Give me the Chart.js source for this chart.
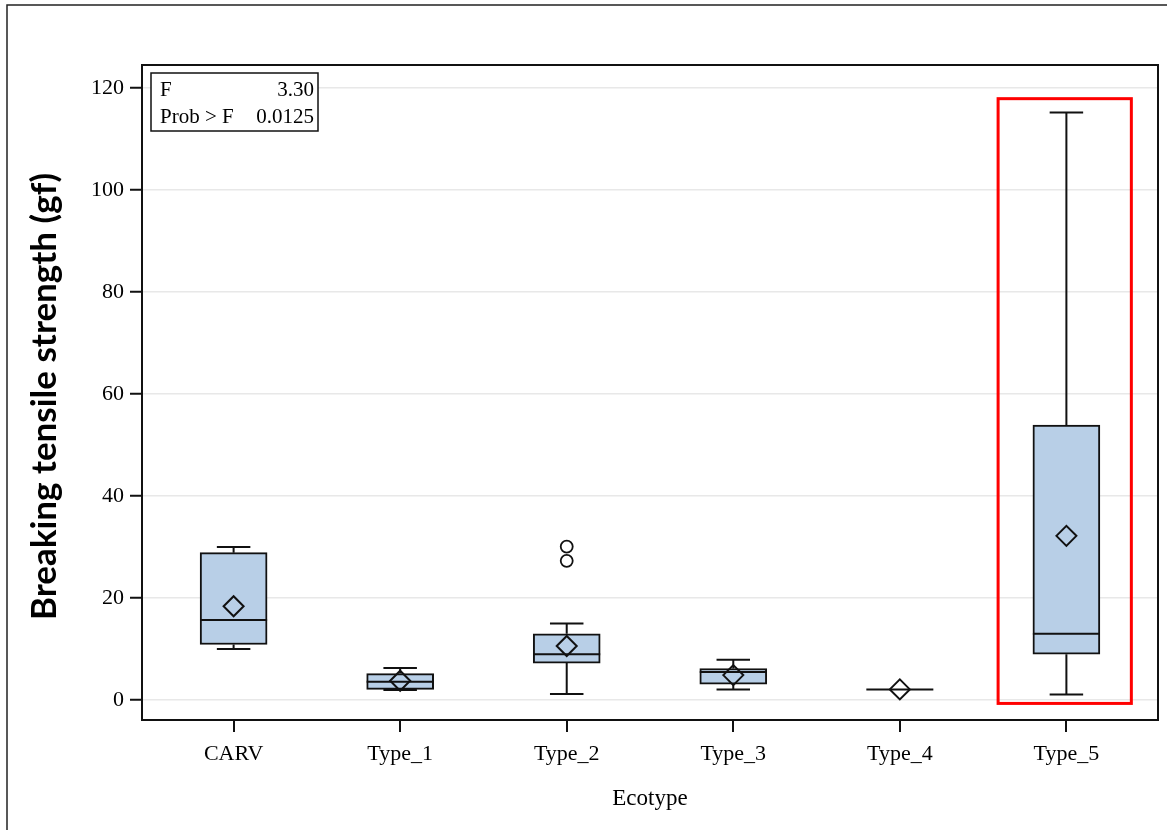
<!DOCTYPE html>
<html>
<head>
<meta charset="utf-8">
<script src="https://cdn.jsdelivr.net/npm/chart.js@4"></script>
<style>
  html, body { margin: 0; padding: 0; background: #fff; }
  #wrap { width: 1170px; height: 830px; }
</style>
</head>
<body>
<div id="wrap"><canvas id="box" width="1170" height="830"></canvas></div>
<script>
// ecotype box plot
const categories = ['CARV', 'Type_1', 'Type_2', 'Type_3', 'Type_4', 'Type_5'];
const whiskerLow = [10.0, 2.0, 1.2, 2.1, 2.1, 1.1];
const q1 = [10.9, 2.1, 7.25, 3.1, 2.1, 9.0];
const median = [15.7, 3.6, 9.0, 5.5, 2.1, 13.0];
const q3 = [28.9, 5.2, 13.0, 6.2, 2.1, 53.9];
const whiskerHigh = [30.0, 6.3, 15.0, 7.9, 2.1, 115.2];
const means = [18.4, 3.8, 10.6, 4.9, 2.1, 32.2];
const outlierCat = [2, 2];
const outlierVal = [30.1, 27.3];
const yTicks = [0, 20, 40, 60, 80, 100, 120];
const statLabels = ['F', 'Prob > F'];
const statValues = ['3.30', '0.0125'];
const highlightX = [4.59, 5.39];
const highlightY = [-0.65, 117.9];

const serif = "'Liberation Serif', 'Times New Roman', serif";

const boxExtras = {
    id: 'boxExtras',
    beforeDraw(chart) {
        const ctx = chart.ctx;
        ctx.save();
        ctx.fillStyle = '#fff';
        ctx.fillRect(0, 0, chart.width, chart.height);
        // outer frame (top and left only)
        ctx.strokeStyle = '#222';
        ctx.lineWidth = 1.5;
        ctx.beginPath();
        ctx.moveTo(7, chart.height);
        ctx.lineTo(7, 5);
        ctx.lineTo(1167, 5);
        ctx.stroke();
        ctx.restore();
    },
    afterDatasetDraw(chart, args) {
        if (args.meta.type !== 'bar') return;
        const ctx = chart.ctx;
        const y = chart.scales.y;
        ctx.save();
        ctx.strokeStyle = '#111';
        ctx.lineWidth = 2;
        args.meta.data.forEach(function (bar, i) {
            const cx = bar.x;
            const half = bar.width / 2;
            const cap = bar.width / 4;
            ctx.beginPath();
            // whiskers
            ctx.moveTo(cx, y.getPixelForValue(q3[i]));
            ctx.lineTo(cx, y.getPixelForValue(whiskerHigh[i]));
            ctx.moveTo(cx - cap, y.getPixelForValue(whiskerHigh[i]));
            ctx.lineTo(cx + cap, y.getPixelForValue(whiskerHigh[i]));
            ctx.moveTo(cx, y.getPixelForValue(q1[i]));
            ctx.lineTo(cx, y.getPixelForValue(whiskerLow[i]));
            ctx.moveTo(cx - cap, y.getPixelForValue(whiskerLow[i]));
            ctx.lineTo(cx + cap, y.getPixelForValue(whiskerLow[i]));
            // median
            ctx.moveTo(cx - half, y.getPixelForValue(median[i]));
            ctx.lineTo(cx + half, y.getPixelForValue(median[i]));
            ctx.stroke();
        });
        ctx.restore();
    },
    afterDraw(chart) {
        const ctx = chart.ctx;
        const a = chart.chartArea;
        const xs = chart.scales.x, ys = chart.scales.y;
        ctx.save();
        // plot frame
        ctx.strokeStyle = '#111';
        ctx.lineWidth = 2;
        ctx.strokeRect(a.left, a.top, a.right - a.left, a.bottom - a.top);

        // highlight rectangle
        ctx.strokeStyle = '#ff0000';
        ctx.lineWidth = 3;
        const hx0 = xs.getPixelForValue(highlightX[0]), hx1 = xs.getPixelForValue(highlightX[1]);
        const hy0 = ys.getPixelForValue(highlightY[1]), hy1 = ys.getPixelForValue(highlightY[0]);
        ctx.strokeRect(hx0, hy0, hx1 - hx0, hy1 - hy0);

        // stats inset
        ctx.strokeStyle = '#111';
        ctx.lineWidth = 1.5;
        ctx.fillStyle = '#fff';
        ctx.fillRect(151, 73, 167, 58);
        ctx.strokeRect(151, 73, 167, 58);
        ctx.fillStyle = '#000';
        ctx.font = '21px ' + serif;
        ctx.textBaseline = 'alphabetic';
        statLabels.forEach(function (lab, i) {
            const by = 96 + i * 27;
            ctx.textAlign = 'left';
            ctx.fillText(lab, 160, by);
            ctx.textAlign = 'right';
            ctx.fillText(statValues[i], 314, by);
        });

        // axis titles
        ctx.textAlign = 'center';
        ctx.textBaseline = 'middle';
        ctx.font = '23px ' + serif;
        ctx.fillText('Ecotype', (a.left + a.right) / 2, 799);
        ctx.translate(45, (a.top + a.bottom) / 2 + 4);
        ctx.rotate(-Math.PI / 2);
        ctx.font = "bold 35px Lato, 'Open Sans', sans-serif";
        ctx.fillText('Breaking tensile strength (gf)', 0, 0);
        ctx.restore();
    }
};

const ctx = document.getElementById('box').getContext('2d');
new Chart(ctx, {
    type: 'bar',
    data: {
        datasets: [{
            type: 'scatter',
            label: 'Mean',
            order: 1,
            data: categories.map((c, i) => ({ x: i, y: means[i] })),
            pointStyle: 'rectRot',
            pointRadius: 10,
            borderColor: '#111',
            borderWidth: 2,
            backgroundColor: 'rgba(0,0,0,0)'
        }, {
            type: 'scatter',
            label: 'Outliers',
            order: 1,
            data: outlierVal.map((v, i) => ({ x: outlierCat[i], y: v })),
            pointStyle: 'circle',
            pointRadius: 6,
            borderColor: '#111',
            borderWidth: 1.8,
            backgroundColor: 'rgba(0,0,0,0)'
        }, {
            type: 'bar',
            label: 'Box',
            order: 3,
            data: categories.map((c, i) => ({ x: i, y: [q1[i], q3[i]] })),
            barThickness: 67,
            backgroundColor: '#b8cfe7',
            borderColor: '#111',
            borderWidth: 2,
            borderSkipped: false
        }]
    },
    options: {
        responsive: false,
        animation: false,
        layout: { padding: { top: 65, right: 10, left: 0, bottom: 0 } },
        plugins: {
            legend: { display: false },
            tooltip: { enabled: false }
        },
        scales: {
            x: {
                type: 'linear',
                offset: false,
                min: -0.55,
                max: 5.55,
                afterBuildTicks: function (scale) {
                    scale.ticks = categories.map((c, i) => ({ value: i }));
                },
                afterFit: function (scale) { scale.height = 110; },
                ticks: {
                    callback: function (v) { return categories[v]; },
                    color: '#000',
                    padding: 9,
                    font: { family: serif, size: 22 }
                },
                grid: {
                    offset: false,
                    drawOnChartArea: false,
                    color: '#111',
                    tickLength: 12,
                    lineWidth: 2
                },
                border: { display: true, color: '#111', width: 2 }
            },
            y: {
                min: -3.9,
                max: 124.5,
                afterBuildTicks: function (scale) {
                    scale.ticks = yTicks.map(v => ({ value: v }));
                },
                afterFit: function (scale) { scale.width = 142; },
                ticks: {
                    color: '#000',
                    padding: 6,
                    font: { family: serif, size: 22 }
                },
                grid: {
                    color: '#e8e8e8',
                    lineWidth: 1.5,
                    tickColor: '#111',
                    tickWidth: 2,
                    tickLength: 12
                },
                border: { display: true, color: '#111', width: 2 }
            }
        }
    },
    plugins: [boxExtras]
});
</script>
</body>
</html>
